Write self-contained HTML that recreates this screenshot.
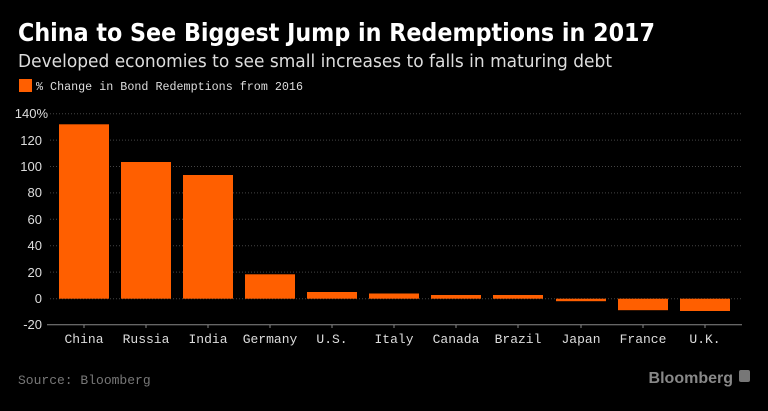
<!DOCTYPE html>
<html><head><meta charset="utf-8"><style>
body{margin:0;background:#000;width:768px;height:406px;overflow:hidden;font-family:"Liberation Sans",sans-serif}
</style></head><body>
<svg width="768" height="406" xmlns="http://www.w3.org/2000/svg">
<rect width="768" height="406" fill="#000"/>
<text x="18" y="41" fill="#fff" font-size="25" font-weight="bold" font-family="DejaVu Sans" textLength="637" lengthAdjust="spacingAndGlyphs">China to See Biggest Jump in Redemptions in 2017</text>
<text x="18" y="67" fill="#ddd" font-size="18" font-family="DejaVu Sans" textLength="594" lengthAdjust="spacingAndGlyphs">Developed economies to see small increases to falls in maturing debt</text>
<rect x="19" y="79" width="13" height="13" fill="#ff5f00"/>
<text x="36" y="90" fill="#ddd" font-size="12" font-family="Liberation Mono" textLength="267" lengthAdjust="spacingAndGlyphs">% Change in Bond Redemptions from 2016</text>
<g stroke="#444" stroke-dasharray="1,2" stroke-width="1">
<line x1="50" y1="113.7" x2="742" y2="113.7"/><line x1="50" y1="140.1" x2="742" y2="140.1"/>
<line x1="50" y1="166.5" x2="742" y2="166.5"/><line x1="50" y1="192.9" x2="742" y2="192.9"/>
<line x1="50" y1="219.3" x2="742" y2="219.3"/><line x1="50" y1="245.7" x2="742" y2="245.7"/>
<line x1="50" y1="272.1" x2="742" y2="272.1"/><line x1="50" y1="298.7" x2="742" y2="298.7"/>
</g>
<line x1="47" y1="324.8" x2="742" y2="324.8" stroke="#888" stroke-width="1"/>
<g fill="#ddd" font-size="13" font-family="Liberation Sans" text-anchor="end">
<text x="48" y="118">140%</text><text x="42" y="145">120</text><text x="42" y="171">100</text>
<text x="42" y="197">80</text><text x="42" y="224">60</text><text x="42" y="250">40</text>
<text x="42" y="277">20</text><text x="42" y="303">0</text><text x="42" y="329">-20</text>
</g>
<g fill="#ff5f00">
<rect x="59" y="124.3" width="50" height="174.4"/>
<rect x="121" y="162" width="50" height="136.7"/>
<rect x="183" y="175" width="50" height="123.7"/>
<rect x="245" y="274.3" width="50" height="24.4"/>
<rect x="307" y="292" width="50" height="6.7"/>
<rect x="369" y="293.5" width="50" height="5.2"/>
<rect x="431" y="295" width="50" height="3.7"/>
<rect x="493" y="295" width="50" height="3.7"/>
<rect x="556" y="298.7" width="50" height="2.5"/>
<rect x="618" y="298.7" width="50" height="11.5"/>
<rect x="680" y="298.7" width="50" height="12.3"/>
</g>
<g stroke="#888"><line x1="84" y1="325" x2="84" y2="328"/><line x1="146" y1="325" x2="146" y2="328"/><line x1="208" y1="325" x2="208" y2="328"/><line x1="270" y1="325" x2="270" y2="328"/><line x1="332" y1="325" x2="332" y2="328"/><line x1="394" y1="325" x2="394" y2="328"/><line x1="456" y1="325" x2="456" y2="328"/><line x1="518" y1="325" x2="518" y2="328"/><line x1="581" y1="325" x2="581" y2="328"/><line x1="643" y1="325" x2="643" y2="328"/><line x1="705" y1="325" x2="705" y2="328"/></g>
<g fill="#ddd" font-size="13" font-family="Liberation Mono" text-anchor="middle">
<text x="84" y="343">China</text><text x="146" y="343">Russia</text><text x="208" y="343">India</text>
<text x="270" y="343">Germany</text><text x="332" y="343">U.S.</text><text x="394" y="343">Italy</text>
<text x="456" y="343">Canada</text><text x="518" y="343">Brazil</text><text x="581" y="343">Japan</text>
<text x="643" y="343">France</text><text x="705" y="343">U.K.</text>
</g>
<text x="18" y="384" fill="#777" font-size="13" font-family="Liberation Mono">Source: Bloomberg</text>
<text x="733" y="383" fill="#888" font-size="16" font-weight="bold" font-family="Liberation Sans" text-anchor="end">Bloomberg</text>
<rect x="739" y="370" width="11" height="12" rx="2" fill="#777"/>
</svg>
</body></html>
